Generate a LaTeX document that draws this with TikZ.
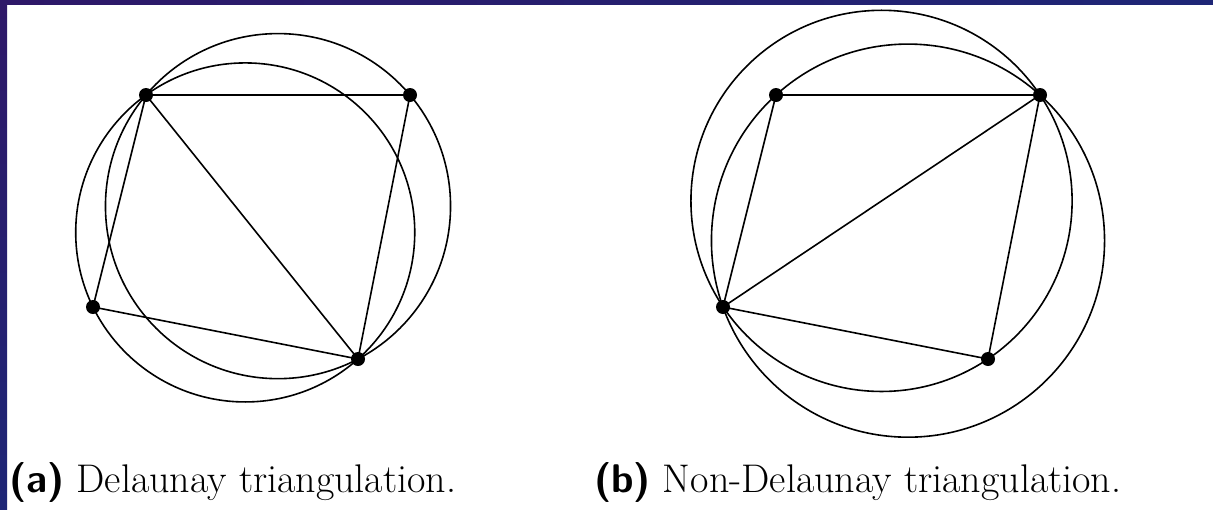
\documentclass[tikz,border=0pt]{standalone}
\usetikzlibrary{through}
\definecolor{framepurple}{RGB}{46,24,104}
\definecolor{frameblue}{RGB}{30,38,118}
\tikzset{
  pt/.style={circle, fill=black, inner sep=0pt, minimum size=14pt},
  edge/.style={draw=black, line width=1.6pt},
  ccirc/.style={draw=black, line width=1.6pt, inner sep=0pt, outer sep=0pt},
  caption/.style={anchor=base west, inner sep=0pt, font=\fontsize{40}{44}\selectfont}
}
\begin{document}
\begin{tikzpicture}[x=1pt,y=-1pt]
\useasboundingbox (0,0) rectangle (1213,509);
\fill[white] (0,0) rectangle (1213,509);
% frame
\shade[left color=framepurple, right color=frameblue] (0,0) rectangle (1213,4);
\shade[top color=framepurple, bottom color=frameblue] (0,0) rectangle (7,509);

% (a) Delaunay
\coordinate (a1) at (146,95);
\coordinate (a2) at (410,95);
\coordinate (a3) at (93,307);
\coordinate (a4) at (358,359);
\coordinate (ca) at (278,206.12);
\coordinate (cb) at (245.23,232.43);
\node[ccirc, circle through=(a1)] (circA) at (ca) {};
\node[ccirc, circle through=(a1)] (circB) at (cb) {};
\draw[edge] (a1) -- (a2) -- (a4) -- (a1) -- (a3) -- (a4);
\foreach \p in {a1,a2,a3,a4} \node[pt] (n\p) at (\p) {};

% (b) Non-Delaunay
\coordinate (b1) at (776,95);
\coordinate (b2) at (1040,95);
\coordinate (b3) at (723,307);
\coordinate (b4) at (988,359);
\coordinate (cc) at (908,240.63);
\coordinate (cd) at (881.52,200.88);
\node[ccirc, circle through=(b1)] (circC) at (cc) {};
\node[ccirc, circle through=(b2)] (circD) at (cd) {};
\draw[edge] (b1) -- (b2) -- (b3) -- (b1);
\draw[edge] (b2) -- (b4) -- (b3);
\foreach \p in {b1,b2,b3,b4} \node[pt] (n\p) at (\p) {};

% captions
\node[caption] (capa) at (9,492) {{\sffamily\bfseries (a)} Delaunay triangulation.};
\node[caption] (capb) at (594,492) {{\sffamily\bfseries (b)} Non-Delaunay triangulation.};
\end{tikzpicture}
\end{document}
